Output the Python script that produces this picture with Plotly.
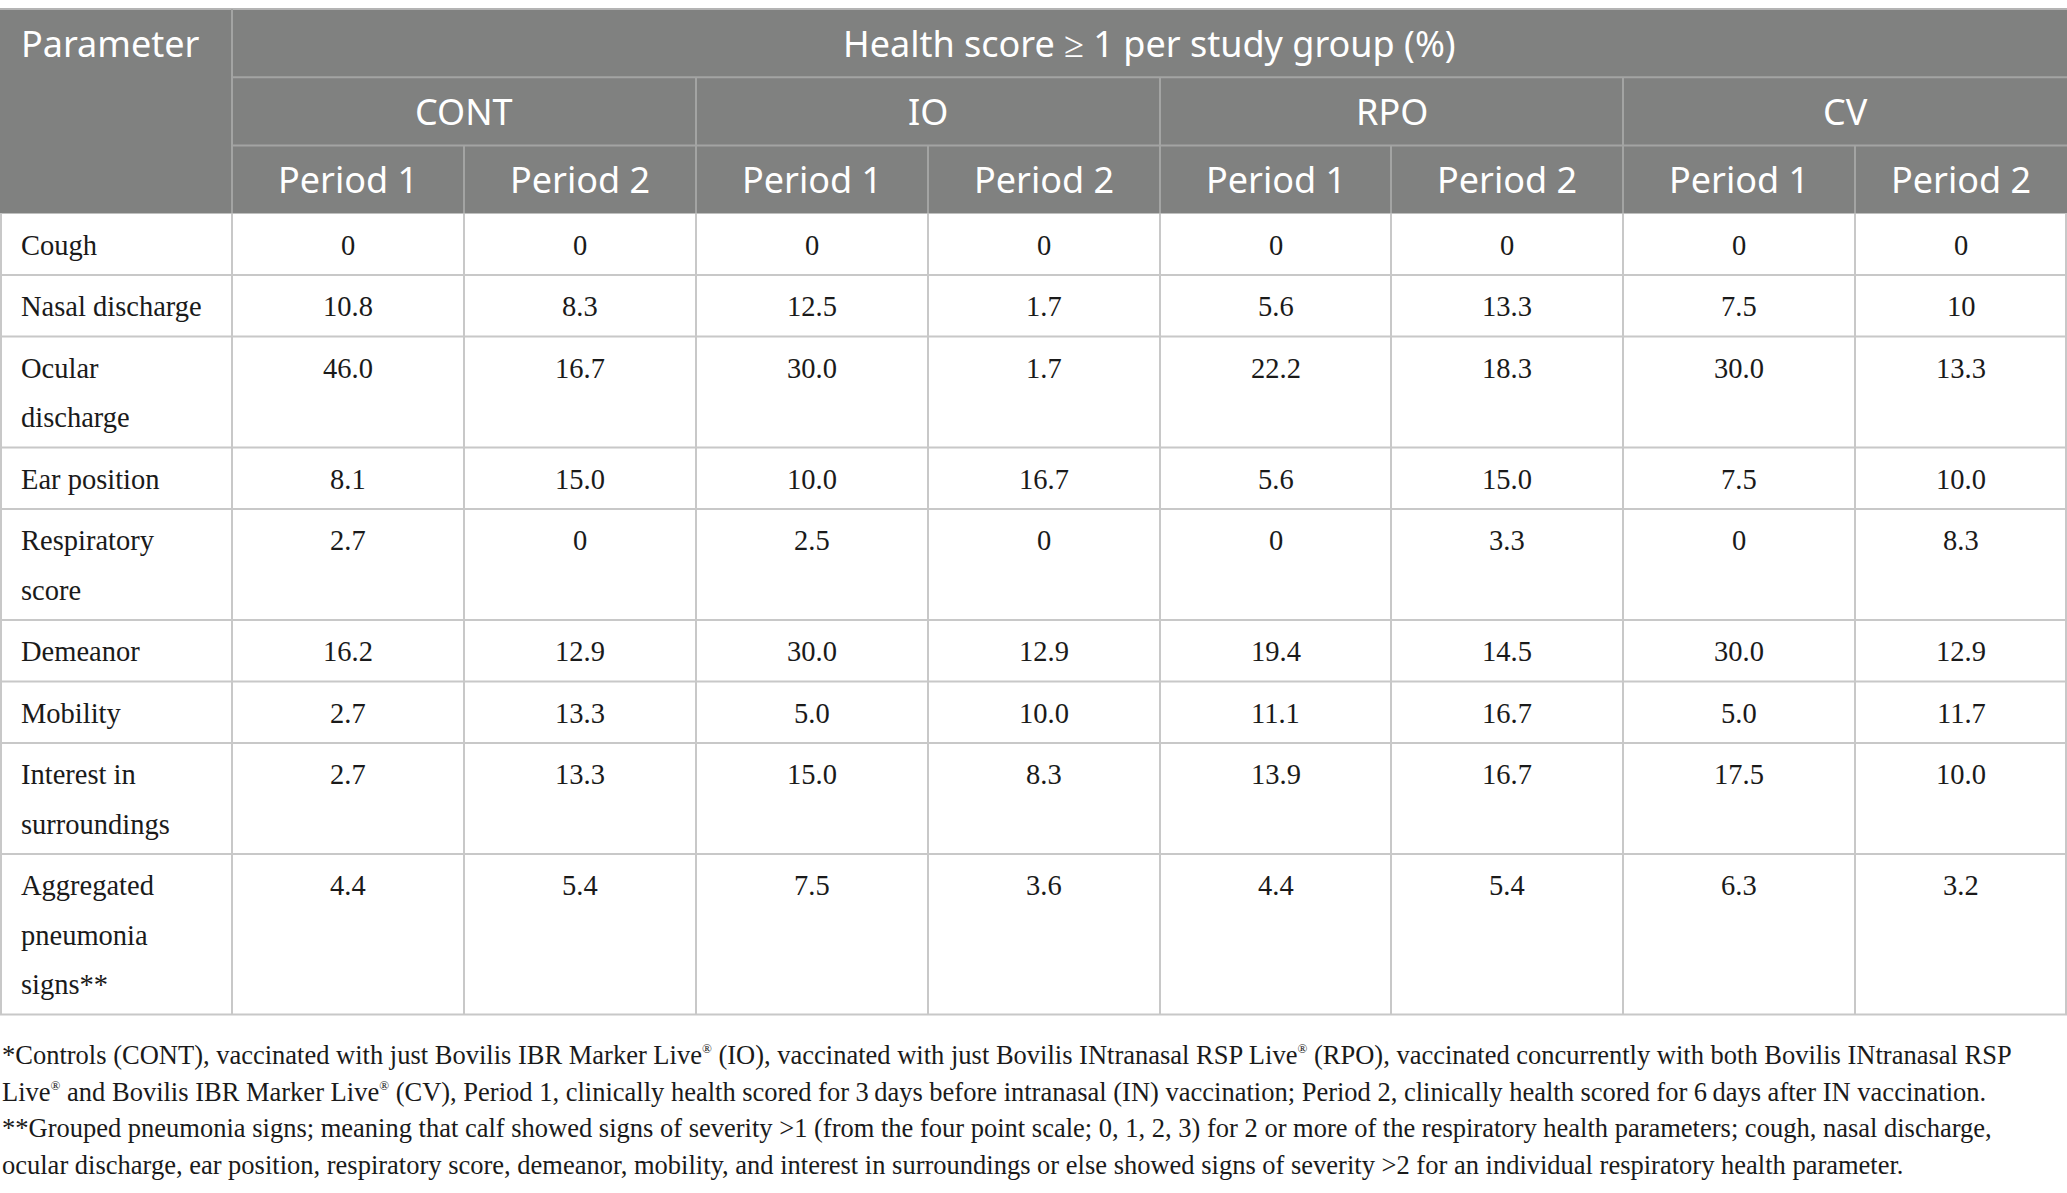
import plotly.graph_objects as go

# ---------------- data ----------------
title_text = "Health score \u2265 1 per study group (%)"
row_header = "Parameter"
groups = ["CONT", "IO", "RPO", "CV"]
periods = ["Period 1", "Period 2"]
parameters = [
    "Cough",
    "Nasal discharge",
    "Ocular\ndischarge",
    "Ear position",
    "Respiratory\nscore",
    "Demeanor",
    "Mobility",
    "Interest in\nsurroundings",
    "Aggregated\npneumonia\nsigns**",
]
cont_p1 = ["0", "10.8", "46.0", "8.1", "2.7", "16.2", "2.7", "2.7", "4.4"]
cont_p2 = ["0", "8.3", "16.7", "15.0", "0", "12.9", "13.3", "13.3", "5.4"]
io_p1 = ["0", "12.5", "30.0", "10.0", "2.5", "30.0", "5.0", "15.0", "7.5"]
io_p2 = ["0", "1.7", "1.7", "16.7", "0", "12.9", "10.0", "8.3", "3.6"]
rpo_p1 = ["0", "5.6", "22.2", "5.6", "0", "19.4", "11.1", "13.9", "4.4"]
rpo_p2 = ["0", "13.3", "18.3", "15.0", "3.3", "14.5", "16.7", "16.7", "5.4"]
cv_p1 = ["0", "7.5", "30.0", "7.5", "0", "30.0", "5.0", "17.5", "6.3"]
cv_p2 = ["0", "10", "13.3", "10.0", "8.3", "12.9", "11.7", "10.0", "3.2"]
value_columns = [cont_p1, cont_p2, io_p1, io_p2, rpo_p1, rpo_p2, cv_p1, cv_p2]

REG = "<sup><span style='font-size:13px'>\u00ae</span></sup>"
footnotes = [
    "*Controls (CONT), vaccinated with just Bovilis IBR Marker Live" + REG + " (IO), vaccinated with just Bovilis INtranasal RSP Live" + REG + " (RPO), vaccinated concurrently with both Bovilis INtranasal RSP",
    "Live" + REG + " and Bovilis IBR Marker Live" + REG + " (CV), Period 1, clinically health scored for 3\u2009days before intranasal (IN) vaccination; Period 2, clinically health scored for 6\u2009days after IN vaccination.",
    "**Grouped pneumonia signs; meaning that calf showed signs of severity >1 (from the four point scale; 0, 1, 2, 3) for 2 or more of the respiratory health parameters; cough, nasal discharge,",
    "ocular discharge, ear position, respiratory score, demeanor, mobility, and interest in surroundings or else showed signs of severity >2 for an individual respiratory health parameter.",
]

# ---------------- geometry / style ----------------
W, H = 2067, 1193
col_widths = [232, 232, 232, 232, 232, 231, 232, 232]  # parameter col + first 7 data cols
col_widths = col_widths + [W - sum(col_widths)]
col_edges = [0]
for w in col_widths:
    col_edges.append(col_edges[-1] + w)

table_top = 9
header_h = 68.2
base_row_h = 61.5
extra_line_h = 49.5
first_line_off = 31.5
text_pad = 19
foot_first = 1055
foot_step = 36.7

header_fill = "#808180"
header_line = "#a3a4a3"
body_line = "#c8c8c8"
body_text = "#1a1a1a"
header_font = dict(family="Noto Sans", size=36, color="white")
body_font = dict(family="Liberation Serif", size=28.5, color=body_text)
foot_font = dict(family="Liberation Serif", size=26.5, color=body_text)

fig = go.Figure()
shapes = []
annotations = []

h_rows = [table_top + i * header_h for i in range(4)]
header_bottom = h_rows[3]

shapes.append(dict(type="rect", x0=0, x1=W, y0=h_rows[0], y1=header_bottom,
                   fillcolor=header_fill, line=dict(width=0), layer="below"))
shapes.append(dict(type="line", x0=0, x1=W, y0=h_rows[0], y1=h_rows[0],
                   line=dict(color="#b4b4b4", width=2)))
for yy in (h_rows[1], h_rows[2]):
    shapes.append(dict(type="line", x0=col_edges[1], x1=W, y0=yy, y1=yy,
                       line=dict(color=header_line, width=2)))
shapes.append(dict(type="line", x0=col_edges[1], x1=col_edges[1], y0=h_rows[0], y1=header_bottom,
                   line=dict(color=header_line, width=2)))
for g in range(1, len(groups)):
    xx = col_edges[1 + 2 * g]
    shapes.append(dict(type="line", x0=xx, x1=xx, y0=h_rows[1], y1=header_bottom,
                       line=dict(color=header_line, width=2)))
for g in range(len(groups)):
    xx = col_edges[2 + 2 * g]
    shapes.append(dict(type="line", x0=xx, x1=xx, y0=h_rows[2], y1=header_bottom,
                       line=dict(color=header_line, width=2)))

annotations.append(dict(x=text_pad, y=(h_rows[0] + h_rows[1]) / 2, text=row_header,
                        xanchor="left", yanchor="middle", showarrow=False, font=header_font))
annotations.append(dict(x=(col_edges[1] + W) / 2, y=(h_rows[0] + h_rows[1]) / 2, text=title_text,
                        xanchor="center", yanchor="middle", showarrow=False, font=header_font))
for g, name in enumerate(groups):
    x0 = col_edges[1 + 2 * g]
    x1 = col_edges[3 + 2 * g]
    annotations.append(dict(x=(x0 + x1) / 2, y=(h_rows[1] + h_rows[2]) / 2, text=name,
                            xanchor="center", yanchor="middle", showarrow=False, font=header_font))
    for p, pname in enumerate(periods):
        c = 1 + 2 * g + p
        annotations.append(dict(x=(col_edges[c] + col_edges[c + 1]) / 2,
                                y=(h_rows[2] + h_rows[3]) / 2, text=pname,
                                xanchor="center", yanchor="middle", showarrow=False, font=header_font))

row_tops = [header_bottom]
for label in parameters:
    n = label.count("\n") + 1
    row_tops.append(row_tops[-1] + base_row_h + extra_line_h * (n - 1))
body_bottom = row_tops[-1]

for yy in row_tops[1:]:
    shapes.append(dict(type="line", x0=0, x1=W, y0=yy, y1=yy,
                       line=dict(color=body_line, width=2)))
for xx in col_edges:
    xx = min(max(xx, 1), W - 1)
    shapes.append(dict(type="line", x0=xx, x1=xx, y0=header_bottom, y1=body_bottom,
                       line=dict(color=body_line, width=2)))

for r, label in enumerate(parameters):
    top = row_tops[r]
    for li, line in enumerate(label.split("\n")):
        annotations.append(dict(x=text_pad, y=top + first_line_off + li * extra_line_h, text=line,
                                xanchor="left", yanchor="middle", showarrow=False, font=body_font))
    for c, col in enumerate(value_columns):
        xc = (col_edges[c + 1] + col_edges[c + 2]) / 2
        annotations.append(dict(x=xc, y=top + first_line_off, text=col[r],
                                xanchor="center", yanchor="middle", showarrow=False, font=body_font))

for i, txt in enumerate(footnotes):
    annotations.append(dict(x=0, y=foot_first + i * foot_step, text=txt,
                            xanchor="left", yanchor="middle", showarrow=False, font=foot_font))

fig.update_layout(
    width=W, height=H,
    margin=dict(l=0, r=0, t=0, b=0),
    paper_bgcolor="white", plot_bgcolor="white",
    xaxis=dict(range=[0, W], visible=False, fixedrange=True),
    yaxis=dict(range=[H, 0], visible=False, fixedrange=True),
    shapes=shapes, annotations=annotations, showlegend=False,
)

fig.write_html("out.html", config={"displayModeBar": False},
               post_script="document.body.style.margin='0';document.body.style.overflow='hidden';")
